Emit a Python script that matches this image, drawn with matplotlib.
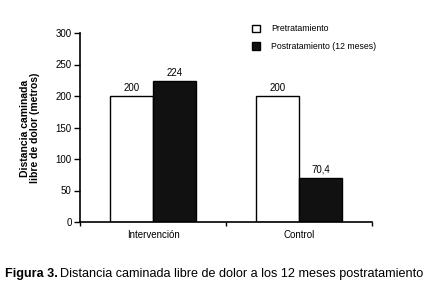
import matplotlib
matplotlib.use("Agg")
import matplotlib.pyplot as plt
import numpy as np

categories = ["Intervención", "Control"]
pre = [200, 200]
post = [224, 70.4]
pre_labels = ["200", "200"]
post_labels = ["224", "70,4"]
yticks = [0, 50, 100, 150, 200, 250, 300]
series_names = ["Pretratamiento", "Postratamiento (12 meses)"]

plt.rcParams['font.family'] = ['Liberation Sans', 'DejaVu Sans']
fig = plt.figure(figsize=(4.32, 2.96), dpi=100)
ax = fig.add_axes([80/432, 1-222/296, 292/432, 189/296])

x = np.arange(len(categories))
w = 0.295
b1 = ax.bar(x - w/2, pre, w, color='white', edgecolor='black', linewidth=1.0, label=series_names[0])
b2 = ax.bar(x + w/2, post, w, color='#111111', edgecolor='black', linewidth=1.0, label=series_names[1])
for xi, v, t in zip(x - w/2, pre, pre_labels):
    ax.text(xi, v + 5, t, ha='center', va='bottom', fontsize=7)
for xi, v, t in zip(x + w/2, post, post_labels):
    ax.text(xi, v + 5, t, ha='center', va='bottom', fontsize=7)

ax.set_xlim(-0.5, 1.5)
ax.set_ylim(0, 300)
ax.set_yticks(yticks)
ax.tick_params(axis='y', labelsize=7, length=4, width=1, direction='out', pad=2)
ax.set_xticks(x)
ax.set_xticklabels(categories, fontsize=7)
ax.tick_params(axis='x', which='major', length=0, pad=6)
ax.set_xticks([-0.5, 0.5, 1.5], minor=True)
ax.tick_params(axis='x', which='minor', length=3, width=1, direction='out')
for s in ['top', 'right']:
    ax.spines[s].set_visible(False)
for s in ['left', 'bottom']:
    ax.spines[s].set_linewidth(1.2)

fig.text(30/432, 1-128/296, "Distancia caminada\nlibre de dolor (metros)", rotation=90,
         ha='center', va='center', fontsize=7.5, fontweight='bold', linespacing=1.1)

leg = ax.legend(loc='upper left', bbox_to_anchor=(248/432, 1-20/296), bbox_transform=fig.transFigure,
                frameon=False, fontsize=6.3, handlelength=0.9, handleheight=0.9,
                labelspacing=1.0, handletextpad=1.2, borderpad=0)

t1 = fig.text(5/432, 1-274/296, "Figura 3.", fontsize=9.1, fontweight='bold',
              ha='left', va='center')
fig.canvas.draw()
bb = t1.get_window_extent()
fig.text(bb.x1/432 + 2/432, 1-274/296, "Distancia caminada libre de dolor a los 12 meses postratamiento",
         fontsize=9.1, ha='left', va='center')

fig.savefig("out.png", dpi=100)
